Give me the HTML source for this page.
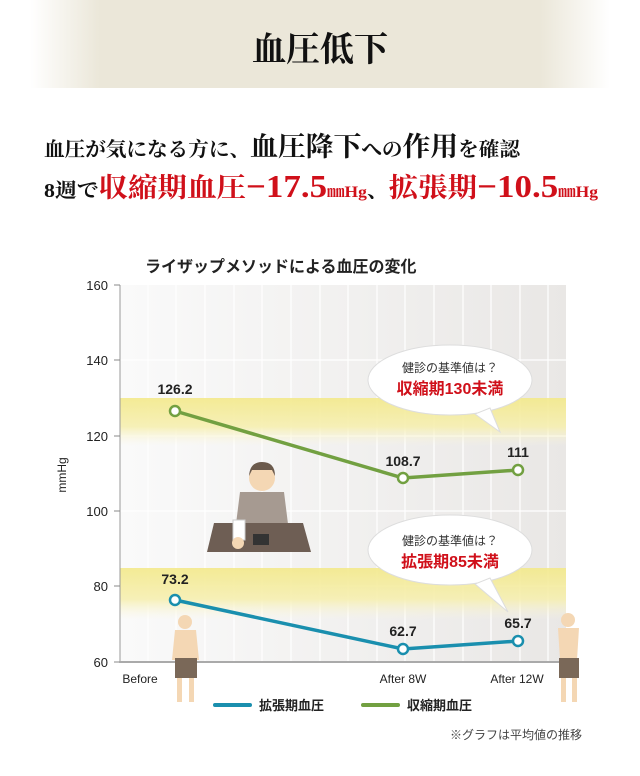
<!DOCTYPE html>
<html><head><meta charset="utf-8"><style>
body{margin:0;background:#fff;}
svg{display:block}
</style></head><body>
<svg width="640" height="776" xmlns="http://www.w3.org/2000/svg" font-family="'Liberation Sans','Noto Sans CJK JP',sans-serif">
<defs>
<linearGradient id="hdr" x1="0" x2="1" y1="0" y2="0">
<stop offset="0" stop-color="#fff"/><stop offset="0.12" stop-color="#ebe7d9"/><stop offset="0.88" stop-color="#ebe7d9"/><stop offset="1" stop-color="#fff"/></linearGradient>
<linearGradient id="plot" x1="0" x2="1" y1="0" y2="0">
<stop offset="0" stop-color="#fafafa"/><stop offset="1" stop-color="#e9e7e5"/></linearGradient>
<linearGradient id="band" x1="0" x2="0" y1="0" y2="1">
<stop offset="0" stop-color="#f3e98a"/><stop offset="0.6" stop-color="#f6efb0"/><stop offset="1" stop-color="#fbf7e0" stop-opacity="0"/></linearGradient>
</defs>
<rect x="30" y="0" width="580" height="88" fill="url(#hdr)"/>
<text x="320" y="61" text-anchor="middle" font-family="'Liberation Serif','Noto Serif CJK SC',serif" font-size="34" font-weight="bold" fill="#111">血圧低下</text>
<text x="44" y="156" font-family="'Liberation Serif','Noto Serif CJK SC',serif" font-size="20" font-weight="bold" fill="#111" textLength="476" lengthAdjust="spacingAndGlyphs">血圧が気になる方に、<tspan font-size="27">血圧降下</tspan>への<tspan font-size="27">作用</tspan>を確認</text>
<text x="44" y="197" font-family="'Liberation Serif','Noto Serif CJK SC',serif" font-size="20" font-weight="bold" fill="#111" textLength="554" lengthAdjust="spacingAndGlyphs">8週で<tspan fill="#d0101a" font-size="27">収縮期血圧<tspan font-size="32">−17.5</tspan><tspan font-size="16">㎜Hg</tspan></tspan>、<tspan fill="#d0101a" font-size="27">拡張期<tspan font-size="32">−10.5</tspan><tspan font-size="16">㎜Hg</tspan></tspan></text>
<text x="145" y="272" font-size="16" font-weight="bold" fill="#222">ライザップメソッドによる血圧の変化</text>
<rect x="120" y="285" width="446" height="377" fill="url(#plot)"/>
<g stroke="#fff" stroke-width="1.2">
<line x1="148" y1="285" x2="148" y2="662"/><line x1="176" y1="285" x2="176" y2="662"/><line x1="205" y1="285" x2="205" y2="662"/><line x1="234" y1="285" x2="234" y2="662"/><line x1="262" y1="285" x2="262" y2="662"/><line x1="291" y1="285" x2="291" y2="662"/><line x1="320" y1="285" x2="320" y2="662"/><line x1="348" y1="285" x2="348" y2="662"/><line x1="377" y1="285" x2="377" y2="662"/><line x1="405" y1="285" x2="405" y2="662"/><line x1="434" y1="285" x2="434" y2="662"/><line x1="463" y1="285" x2="463" y2="662"/><line x1="491" y1="285" x2="491" y2="662"/><line x1="520" y1="285" x2="520" y2="662"/><line x1="548" y1="285" x2="548" y2="662"/>
<line x1="120" y1="360" x2="566" y2="360"/><line x1="120" y1="436" x2="566" y2="436"/><line x1="120" y1="511" x2="566" y2="511"/><line x1="120" y1="586" x2="566" y2="586"/>
</g>
<rect x="120" y="398" width="446" height="48" fill="url(#band)" opacity="0.9"/>
<rect x="120" y="568" width="446" height="52" fill="url(#band)" opacity="0.9"/>
<line x1="120" y1="285" x2="120" y2="663" stroke="#999"/>
<line x1="120" y1="662" x2="566" y2="662" stroke="#aaa" stroke-width="2"/>
<g stroke="#888"><line x1="114" y1="285" x2="120" y2="285"/><line x1="114" y1="360" x2="120" y2="360"/><line x1="114" y1="436" x2="120" y2="436"/><line x1="114" y1="511" x2="120" y2="511"/><line x1="114" y1="586" x2="120" y2="586"/><line x1="114" y1="662" x2="120" y2="662"/></g>
<g font-size="13" fill="#222" text-anchor="end"><text x="108" y="290">160</text><text x="108" y="365">140</text><text x="108" y="441">120</text><text x="108" y="516">100</text><text x="108" y="591">80</text><text x="108" y="667">60</text></g>
<text transform="translate(66,475) rotate(-90)" text-anchor="middle" font-size="12" fill="#222">mmHg</text>
<g font-size="12" fill="#222" text-anchor="middle"><text x="140" y="683">Before</text><text x="403" y="683">After 8W</text><text x="517" y="683">After 12W</text></g>
<circle cx="262" cy="478" r="13" fill="#f4d7b4"/><path d="M249 476 Q250 462 262 462 Q275 462 275 476 L272 470 L252 470Z" fill="#6b5a4c"/>
<path d="M240 492 L284 492 L288 524 L236 524Z" fill="#a69a91"/>
<path d="M214 523 L303 523 L311 552 L207 552Z" fill="#6e5e54"/>
<rect x="233" y="520" width="12" height="20" fill="#fff" stroke="#ccc"/><circle cx="238" cy="543" r="6" fill="#f4d7b4"/>
<rect x="253" y="534" width="16" height="11" fill="#333"/>
<g fill="#fff" stroke="#ddd"><ellipse cx="450" cy="380" rx="82" ry="35"/><path d="M490 408 L500 432 L475 414Z"/><ellipse cx="450" cy="550" rx="82" ry="35"/><path d="M490 578 L508 612 L475 584Z"/></g>
<g text-anchor="middle"><text x="450" y="372" font-size="12" fill="#333">健診の基準値は？</text><text x="450" y="394" font-size="16" font-weight="bold" fill="#d0101a">収縮期130未満</text>
<text x="450" y="545" font-size="12" fill="#333">健診の基準値は？</text><text x="450" y="567" font-size="16" font-weight="bold" fill="#d0101a">拡張期85未満</text></g>
<polyline points="175,411 403,478 518,470" fill="none" stroke="#72a041" stroke-width="3.5"/>
<polyline points="175,600 403,649 518,641" fill="none" stroke="#1a8fae" stroke-width="3.5"/>
<g fill="#fff" stroke-width="2.5"><circle cx="175" cy="411" r="5" stroke="#72a041"/><circle cx="403" cy="478" r="5" stroke="#72a041"/><circle cx="518" cy="470" r="5" stroke="#72a041"/>
<circle cx="175" cy="600" r="5" stroke="#1a8fae"/><circle cx="403" cy="649" r="5" stroke="#1a8fae"/><circle cx="518" cy="641" r="5" stroke="#1a8fae"/></g>
<g font-size="14" font-weight="bold" fill="#222" text-anchor="middle"><text x="175" y="394">126.2</text><text x="403" y="466">108.7</text><text x="518" y="457">111</text>
<text x="175" y="584">73.2</text><text x="403" y="636">62.7</text><text x="518" y="628">65.7</text></g>
<g><circle cx="185" cy="622" r="7" fill="#f4d7b4"/><path d="M175 630 L196 630 L199 660 L172 660Z" fill="#f4d7b4"/><rect x="175" y="658" width="22" height="20" fill="#7a6858"/><rect x="177" y="678" width="5" height="24" fill="#f4d7b4"/><rect x="189" y="678" width="5" height="24" fill="#f4d7b4"/></g>
<g><circle cx="568" cy="620" r="7" fill="#f4d7b4"/><path d="M558 628 L579 628 L577 660 L560 660Z" fill="#f4d7b4"/><rect x="559" y="658" width="20" height="20" fill="#7a6858"/><rect x="561" y="678" width="5" height="24" fill="#f4d7b4"/><rect x="572" y="678" width="5" height="24" fill="#f4d7b4"/></g>
<line x1="215" y1="705" x2="250" y2="705" stroke="#1a8fae" stroke-width="4" stroke-linecap="round"/>
<text x="259" y="710" font-size="13" font-weight="bold" fill="#222">拡張期血圧</text>
<line x1="363" y1="705" x2="398" y2="705" stroke="#72a041" stroke-width="4" stroke-linecap="round"/>
<text x="407" y="710" font-size="13" font-weight="bold" fill="#222">収縮期血圧</text>
<text x="582" y="739" text-anchor="end" font-size="12" fill="#444">※グラフは平均値の推移</text>
</svg>
</body></html>
